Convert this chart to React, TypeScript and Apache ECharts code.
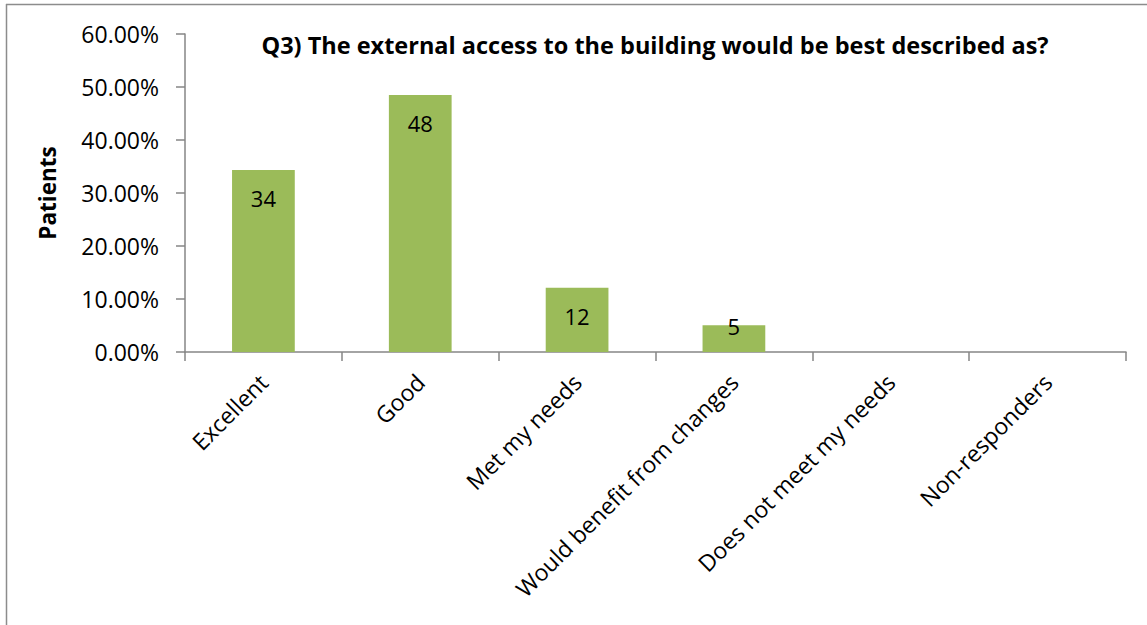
import React, { useEffect, useRef } from "react";
import * as echarts from "echarts";

const categories = [
  "Excellent",
  "Good",
  "Met my needs",
  "Would benefit from changes",
  "Does not meet my needs",
  "Non-responders",
];
const counts = [34, 48, 12, 5, 0, 0];
const percents = [34.34, 48.48, 12.12, 5.05, 0, 0];
const yTicks = [0, 10, 20, 30, 40, 50, 60];

const FONT = "Open Sans";

export default function App() {
  const ref = useRef<HTMLDivElement>(null);
  useEffect(() => {
    document.body.style.margin = "0";
    const chart = echarts.init(ref.current!, null, { renderer: "svg" });
    chart.setOption({
      animation: false,
      backgroundColor: "#ffffff",
      textStyle: { fontFamily: FONT, color: "#000" },
      title: {
        text: "Q3) The external access to the building would be best described as?",
        left: 650,
        textAlign: "center",
        top: 28,
        textStyle: { fontFamily: FONT, fontSize: 23.5, fontWeight: "bold", color: "#000" },
      },
      graphic: [
        { type: "line", shape: { x1: 6.5, y1: 4, x2: 6.5, y2: 625 }, style: { stroke: "#8c8c8c", lineWidth: 1.5 } },
        { type: "line", shape: { x1: 6, y1: 4.5, x2: 1147, y2: 4.5 }, style: { stroke: "#8c8c8c", lineWidth: 1.5 } },
      ],
      grid: { left: 185, right: 21, top: 34, bottom: 273 },
      xAxis: {
        type: "category",
        data: categories,
        axisLine: { lineStyle: { color: "#868686", width: 1.5 } },
        axisTick: { show: true, length: 9, lineStyle: { color: "#868686", width: 1.5 } },
        axisLabel: { rotate: 45, fontSize: 23, color: "#000", fontFamily: FONT, margin: 26, interval: 0 },
      },
      yAxis: {
        type: "value",
        min: 0,
        max: 60,
        interval: 10,
        name: "Patients",
        nameLocation: "middle",
        nameRotate: 90,
        nameGap: 126,
        nameTextStyle: { fontFamily: FONT, fontSize: 22.5, fontWeight: "bold", color: "#000" },
        splitLine: { show: false },
        axisLine: { show: true, lineStyle: { color: "#868686", width: 1.5 } },
        axisTick: { show: true, length: 9, lineStyle: { color: "#868686", width: 1.5 } },
        axisLabel: {
          fontSize: 23,
          color: "#000",
          fontFamily: FONT,
          margin: 26,
          formatter: (v: number) => (yTicks.includes(v) ? v.toFixed(2) + "%" : ""),
        },
      },
      series: [
        {
          type: "bar",
          barWidth: "40%",
          itemStyle: { color: "#9BBB59" },
          data: percents.map((p, i) => {
            const item: any = { value: p };
            if (counts[i] === 0) item.label = { show: false };
            else if (p < 8) item.label = { position: "insideBottom", distance: 15 };
            return item;
          }),
          label: {
            show: true,
            position: "insideTop",
            distance: 17,
            fontSize: 22,
            color: "#000",
            fontFamily: FONT,
            formatter: (p: any) => String(counts[p.dataIndex]),
          },
        },
      ],
    });
    return () => chart.dispose();
  }, []);
  return <div ref={ref} style={{ width: 1147, height: 625 }} />;
}
